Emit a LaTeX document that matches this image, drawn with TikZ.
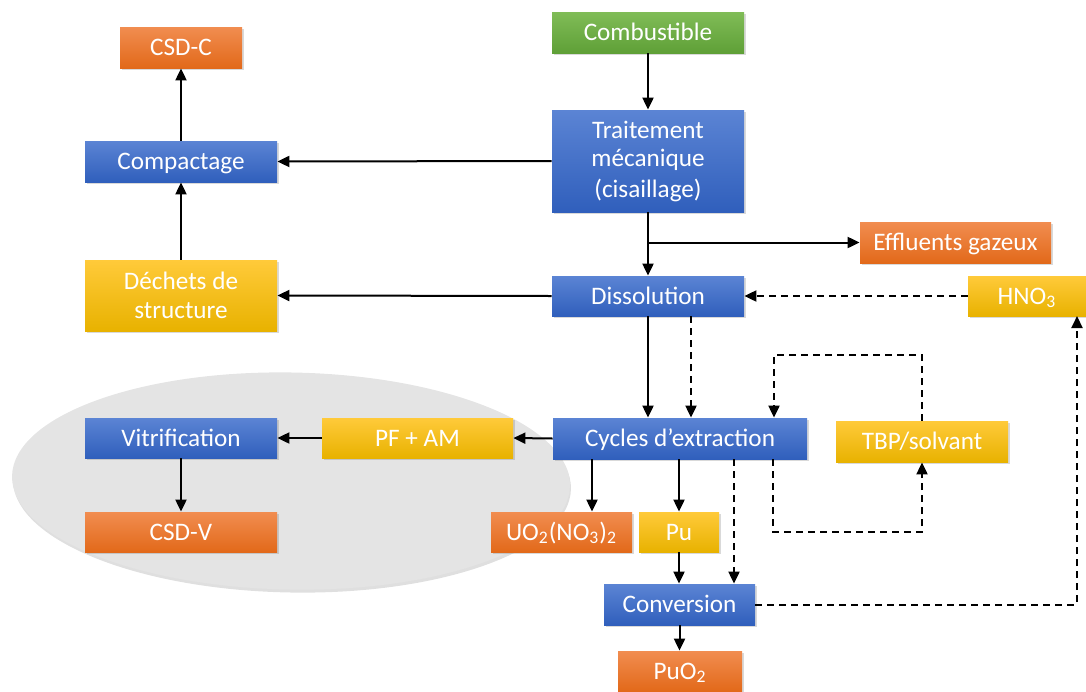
\documentclass[tikz,border=0pt]{standalone}
\usepackage{fontspec}
\setmainfont{Carlito}
\usetikzlibrary{shadows,arrows.meta,calc}
\definecolor{bluetop}{HTML}{5B84D4}
\definecolor{bluebot}{HTML}{305FBC}
\definecolor{orangetop}{HTML}{F18D50}
\definecolor{orangebot}{HTML}{E2691A}
\definecolor{yellowtop}{HTML}{FFCA3A}
\definecolor{yellowbot}{HTML}{E8B200}
\definecolor{greentop}{HTML}{80BC57}
\definecolor{greenbot}{HTML}{5FA037}
\definecolor{ellgray}{HTML}{E4E4E4}
\tikzset{
  box/.style={rectangle, inner sep=0pt, align=center, text=white,
    font=\fontsize{12.6pt}{15.25pt}\selectfont,
    drop shadow={opacity=0.3, shadow xshift=0.9pt, shadow yshift=-0.9pt}},
  one/.style={text height=10pt, text depth=1.9pt},
  sz/.style 2 args={minimum width=#1*0.5pt, minimum height=#2*0.5pt},
  bluebox/.style={box, top color=bluetop, bottom color=bluebot},
  orangebox/.style={box, top color=orangetop, bottom color=orangebot},
  yellowbox/.style={box, top color=yellowtop, bottom color=yellowbot},
  greenbox/.style={box, top color=greentop, bottom color=greenbot},
  arr/.style={draw=black, line width=1pt, -{Triangle[length=6pt,width=5.5pt]}},
  dsh/.style={arr, dash pattern=on 3.5pt off 2.5pt},
}
\begin{document}
\begin{tikzpicture}[x=0.5pt,y=-0.5pt]
\useasboundingbox (0,0) rectangle (1086,691);
% grey ellipse
\fill[ellgray, rotate around={-1:(291,481)}, drop shadow={opacity=0.25, shadow xshift=0.5pt, shadow yshift=-1.5pt}]
  (291,481) ellipse [x radius=139.5pt, y radius=54.25pt];
% nodes
\node[orangebox, one, sz={122}{41}] (csdc) at (181,47.5) {CSD-C};
\node[bluebox, one, sz={192}{41}] (comp) at (181,161.5) {Compactage};
\node[yellowbox, sz={192}{71}] (dech) at (181,295.5) {\raisebox{-1pt}{Déchets de}\\structure};
\node[greenbox, one, sz={192}{41}] (comb) at (648,32.5) {Combustible};
\node[bluebox, sz={192}{102}] (trait) at (648,161) {\raisebox{-1pt}{Traitement}\\mécanique\\(cisaillage)};
\node[orangebox, one, sz={191}{41}] (eff) at (955.5,242.5) {Effluents gazeux};
\node[bluebox, one, sz={192}{40}] (dissol) at (648,296) {Dissolution};
\node[yellowbox, one, sz={118}{40}] (hno) at (1027,296) {HNO\textsubscript{3}};
\node[bluebox, one, sz={254}{41}] (cycles) at (680,438.5) {Cycles d’extraction};
\node[yellowbox, one, sz={172}{41}] (tbp) at (922,441.5) {TBP/solvant};
\node[yellowbox, one, sz={191}{40}] (pfam) at (417.5,438) {PF + AM};
\node[bluebox, one, sz={192}{40}] (vitri) at (181,438) {Vitrification};
\node[orangebox, one, sz={192}{40}] (csdv) at (181,532) {CSD-V};
\node[orangebox, one, sz={141}{40}] (uo) at (561.5,532) {UO\textsubscript{2}(NO\textsubscript{3})\textsubscript{2}};
\node[yellowbox, one, sz={80}{40}] (pu) at (679,532) {Pu};
\node[bluebox, one, sz={151}{41}] (conv) at (679.5,604.5) {Conversion};
\node[orangebox, one, sz={124}{40}] (puo) at (680,671) {PuO\textsubscript{2}};
% helper coordinates
\coordinate (d1) at (691,316);
\coordinate (c1) at (592,459);
\coordinate (c2) at (734,459);
\coordinate (c3) at (773,459);
\coordinate (lb) at (773,532);
\coordinate (lt) at (774,355);
\coordinate (h1) at (1077,316);
% solid connectors
\draw[arr] (comb) -- (trait);
\draw[arr] (trait.west) -- (comp.east);
\draw[arr] (trait) -- (dissol);
\draw[arr] (trait.south |- eff.west) -- (eff.west);
\draw[arr] (dissol.west) -- (dech.east);
\draw[arr] (dech) -- (comp);
\draw[arr] (comp) -- (csdc);
\draw[arr] (dissol.south) -- (dissol.south |- cycles.north);
\draw[arr] (cycles.west) -- (pfam.east);
\draw[arr] (pfam.west) -- (vitri.east);
\draw[arr] (vitri) -- (csdv);
\draw[arr] (c1) -- (c1 |- uo.north);
\draw[arr] (pu.north |- cycles.south) -- (pu.north);
\draw[arr] (pu.south) -- (pu.south |- conv.north);
\draw[arr] (conv.south) -- (conv.south |- puo.north);
% dashed connectors
\draw[dsh] (hno.west) -- (dissol.east);
\draw[dsh] (d1) -- (d1 |- cycles.north);
\draw[dsh] (c2) -- (c2 |- conv.north);
\draw[dsh] (c3) -- (lb) -| (tbp.south);
\draw[dsh] (tbp.north) |- (lt) -- (lt |- cycles.north);
\draw[dsh] (conv.east) -| (h1);
\end{tikzpicture}
\end{document}
